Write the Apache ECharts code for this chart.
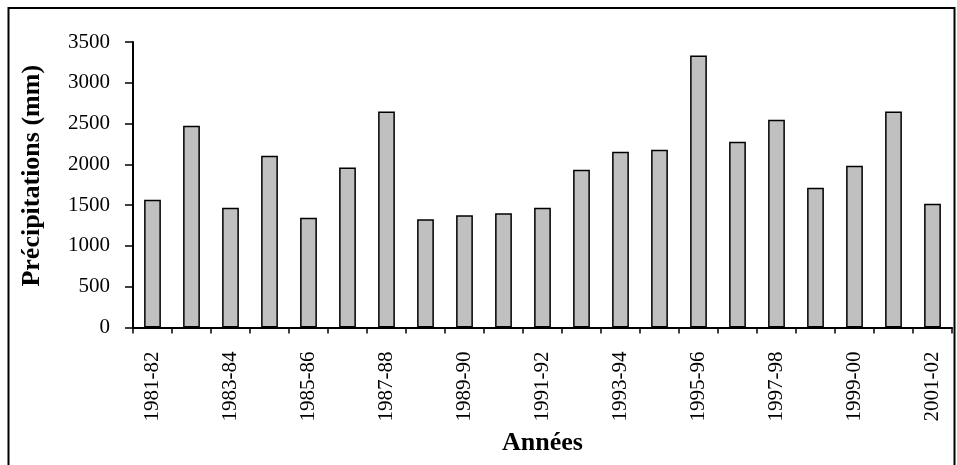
<!DOCTYPE html>
<html><head><meta charset="utf-8">
<script src="https://cdn.jsdelivr.net/npm/echarts@6/dist/echarts.min.js"></script>
<style>html,body{margin:0;padding:0;background:#fff}#c{width:957px;height:465px}</style>
</head><body><div id="c"></div>
<script>
const categories = ['1981-82','1982-83','1983-84','1984-85','1985-86','1986-87','1987-88','1988-89','1989-90','1990-91','1991-92','1992-93','1993-94','1994-95','1995-96','1996-97','1997-98','1998-99','1999-00','2000-01','2001-02'];
const precip = [1567,2472,1469,2105,1346,1963,2648,1327,1375,1400,1469,1934,2154,2178,3334,2276,2546,1713,1983,2648,1518];
const yTicks = [0,500,1000,1500,2000,2500,3000,3500];

const font = '"Liberation Serif", "Times New Roman", serif';
const chart = echarts.init(document.getElementById('c'), null, {renderer:'canvas'});
chart.setOption({
  animation:false,
  backgroundColor:'#fff',
  graphic:[{type:'rect',shape:{x:8.5,y:8,width:946,height:470},style:{fill:'none',stroke:'#000',lineWidth:2},silent:true}],
  grid:{left:133,right:5,top:42,bottom:137.5,containLabel:false,outerBoundsMode:'none'},
  xAxis:{
    type:'category',data:categories,boundaryGap:true,
    name:'Années',nameLocation:'middle',nameGap:103,
    nameTextStyle:{fontFamily:font,fontWeight:'bold',fontSize:26,color:'#000'},
    axisLine:{lineStyle:{color:'#000',width:2}},
    axisTick:{show:true,length:6,lineStyle:{color:'#000',width:1.5},alignWithLabel:false,interval:0},
    axisLabel:{rotate:90,interval:1,margin:24,fontFamily:font,fontSize:21,color:'#000'}
  },
  yAxis:{
    type:'value',min:0,max:3500,interval:500,
    name:'Précipitations (mm)',nameLocation:'middle',nameGap:88,
    nameTextStyle:{fontFamily:font,fontWeight:'bold',fontSize:26,color:'#000',padding:[0,0,0,18]},
    axisLine:{show:true,lineStyle:{color:'#000',width:2}},
    axisTick:{show:true,length:8,lineStyle:{color:'#000',width:1.5}},
    axisLabel:{margin:23,fontFamily:font,fontSize:21,color:'#000',
      formatter:v=>yTicks.includes(v)?String(v):''},
    splitLine:{show:false}
  },
  series:[{type:'bar',data:precip,barWidth:'43%',
    itemStyle:{color:'#c0c0c0',borderColor:'#000',borderWidth:1.5}}]
});
</script></body></html>
